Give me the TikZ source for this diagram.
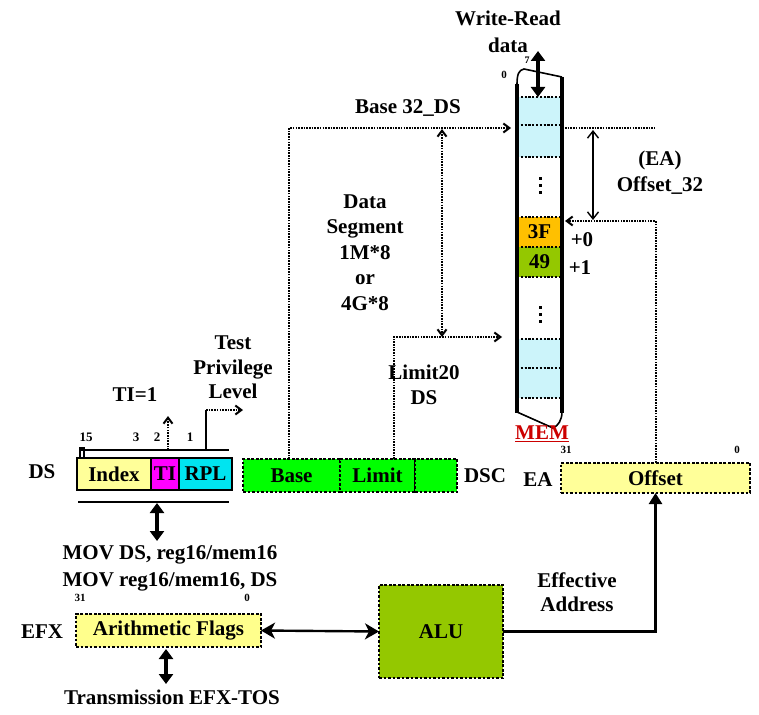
\documentclass[tikz,border=0pt]{standalone}
\usepackage{fontspec}
\setmainfont{Liberation Serif}
\usetikzlibrary{arrows.meta}
\definecolor{pyellow}{RGB}{255,255,153}
\definecolor{flagyellow}{RGB}{255,255,140}
\definecolor{magent}{RGB}{255,0,255}
\definecolor{rplcyan}{RGB}{0,228,240}
\definecolor{dscgreen}{RGB}{0,255,0}
\definecolor{alugreen}{RGB}{148,200,0}
\definecolor{memcyan}{RGB}{204,244,250}
\definecolor{orangethreef}{RGB}{255,192,0}
\definecolor{memred}{RGB}{204,0,0}
\begin{document}
\begin{tikzpicture}[x=1pt,y=-1pt,
  every node/.style={font=\fontsize{21}{25}\selectfont\bfseries, inner sep=0pt, outer sep=0pt},
  lbl/.style={align=center},
  bits/.style={font=\fontsize{13}{15}\selectfont\bfseries},
  tinybits/.style={font=\fontsize{11}{13}\selectfont\bfseries},
  regcell/.style={draw, line width=1.2pt, minimum height=32pt},
  dotbox/.style={draw, line width=2.8pt, dash pattern=on 2.6pt off 1.9pt},
  dotconn/.style={line width=2pt, dash pattern=on 1.6pt off 1.1pt, -{Straight Barb[length=6pt,width=9pt]}},
  dotdbl/.style={line width=2pt, dash pattern=on 1.6pt off 1.1pt, {Straight Barb[length=6pt,width=9pt]}-{Straight Barb[length=6pt,width=9pt]}},
  dotline/.style={line width=2pt, dash pattern=on 1.6pt off 1.1pt},
  thickdbl/.style={line width=3.8pt, {Triangle[length=10pt,width=14pt]}-{Triangle[length=10pt,width=14pt]}},
  flagdbl/.style={line width=2.4pt, {Stealth[length=14pt,width=16pt,inset=4pt]}-{Stealth[length=14pt,width=16pt,inset=4pt]}},
  thindbl/.style={line width=1.4pt, {Straight Barb[length=7pt,width=11pt]}-{Straight Barb[length=7pt,width=11pt]}},
  solidconn/.style={line width=2.4pt, -{Triangle[length=11pt,width=13pt]}},
  memsep/.style={line width=2pt, dash pattern=on 2.2pt off 1.6pt},
  memcell/.style={minimum width=45pt, anchor=north west},
  vdot/.style={fill=black},
]
\useasboundingbox (0,0) rectangle (759,714);

% ---------- DS register ----------
\node (dslbl) at (42,472) {DS};
\node[regcell, fill=pyellow, minimum width=74pt] (index) at (114,474) {Index};
\node[regcell, fill=magent, minimum width=28pt] (ti) at (165,474) {TI};
\node[regcell, fill=rplcyan, minimum width=53pt] (rpl) at (205.5,474) {RPL};
\draw[line width=2.8pt] (index.north west) rectangle (rpl.south east);
\draw[line width=1.4pt] (80,450) -- (229,450);
\draw[line width=1.4pt] (80,458) -- (80,448) -- (84,448) -- (84,458);
\draw[line width=1.4pt] (78,502) -- (229,502);
\node[bits] (b15) at (86,437) {15};
\node[bits] (b3) at (136,437) {3};
\node[bits] (b2) at (157,437) {2};
\node[bits] (b1) at (190,437) {1};
\node (tieq) at (135,395) {TI=1};
\coordinate (tibase) at (168,450);
\coordinate (titop) at (168,416);
\draw[dotconn] (tibase) -- (titop);
\coordinate (rplbase) at (206,450);
\coordinate (rplcorner) at (206,410);
\coordinate (rplend) at (243,410);
\draw[line width=1.4pt] (rplbase) -- (rplcorner);
\draw[dotconn] (rplcorner) -- (rplend);
\node[lbl, font=\fontsize{21}{24.5}\selectfont\bfseries] (tpl) at (233,367.5) {Test\\Privilege\\Level};

% ---------- MOV / flags ----------
\coordinate (dsarrtop) at (157,503);
\coordinate (dsarrbot) at (157,541);
\draw[thickdbl] (dsarrtop) -- (dsarrbot);
\node (mov1) at (170,555) {MOV DS, reg16/mem16};
\node (mov2) at (170,582) {MOV reg16/mem16, DS};
\node[tinybits] (f31) at (80,598) {31};
\node[tinybits] (f0) at (247,598) {0};
\node (efx) at (42,632) {EFX};
\node[dotbox, fill=flagyellow, minimum width=185pt, minimum height=33pt] (flags) at (168.5,630.5) {Arithmetic Flags};
\coordinate (flagtop) at (166,649);
\coordinate (flagbot) at (166,684);
\draw[thickdbl] (flagtop) -- (flagbot);
\node (trans) at (172,697) {Transmission EFX-TOS};

% ---------- ALU ----------
\node[dotbox, fill=alugreen, minimum width=124pt, minimum height=93pt] (alu) at (441,631.5) {ALU};
\draw[flagdbl] (flags.east) -- (alu.west);
\node[lbl, font=\fontsize{21}{24}\selectfont\bfseries] (effaddr) at (577,592) {Effective\\Address};

% ---------- EA offset ----------
\node (dsc) at (485,476) {DSC};
\node (ea) at (538,480) {EA};
\node[dotbox, fill=pyellow, minimum width=189pt, minimum height=30pt] (offset) at (655.5,478) {Offset};
\node[tinybits] (o31) at (566,450) {31};
\node[tinybits] (o0) at (737,450) {0};
\draw[solidconn] (alu.east) -| (offset.south);

% ---------- descriptor ----------
\node[dotbox, fill=dscgreen, minimum width=97pt, minimum height=33pt] (base) at (291.5,475.5) {Base};
\node[dotbox, fill=dscgreen, minimum width=75pt, minimum height=33pt] (limit) at (377.5,475.5) {Limit};
\node[dotbox, fill=dscgreen, minimum width=42pt, minimum height=33pt] (dscx) at (436,475.5) {};

% ---------- memory ----------
\node[memcell, fill=memcyan, minimum height=28pt] (c1) at (517,97) {};
\node[memcell, fill=memcyan, minimum height=32pt] (c2) at (517,125) {};
\node[memcell, fill=orangethreef, minimum height=30pt] (c3f) at (517,217) {3F};
\node[memcell, fill=alugreen, minimum height=30pt] (c49) at (517,247) {49};
\node[memcell, fill=memcyan, minimum height=29pt] (c5) at (517,339) {};
\node[memcell, fill=memcyan, minimum height=30pt] (c6) at (517,368) {};
\foreach \c in {c1,c2,c3f,c49,c5,c6}{
  \draw[memsep] (\c.north west) -- (\c.north east);
  \draw[memsep] (\c.south west) -- (\c.south east);
}
\foreach \yy in {178,185,192,307,314,321}{
  \fill[vdot] (538.5,\yy-1.5) rectangle (541.5,\yy+1.5);
}
\draw[line width=3.2pt] (517,84) -- (517,413);
\draw[line width=3.2pt] (562,77) -- (562,413);
\draw[line width=1.6pt] (517,84) .. controls (517,74) and (519,70) .. (524,69) -- (562,77);
\draw[line width=1.6pt] (517,412) -- (553,428) .. controls (558,426) and (562,420) .. (562,412);
\node[text=memred] (mem) at (542,434) {\underline{MEM}};
\node[tinybits] (m0) at (504,75) {0};
\node[tinybits, font=\fontsize{10}{12}\selectfont\bfseries] (m7) at (527,60) {7};
\node[lbl, font=\fontsize{21}{27}\selectfont\bfseries] (wr) at (508,31.5) {Write-Read\\data};
\coordinate (wrtop) at (538,51);
\coordinate (wrbot) at (538,97);
\draw[thickdbl] (wrtop) -- (wrbot);

% ---------- base / limit connectors ----------
\node (base32) at (408,108) {Base 32\_DS};
\coordinate (baseend) at (511,128);
\coordinate (basetop) at (289,128);
\coordinate (basebot) at (289,459);
\draw[dotconn] (basebot) -- (basetop) -- (baseend);
\coordinate (segtop) at (442,129);
\coordinate (segbot) at (442,337);
\draw[dotdbl] (segtop) -- (segbot);
\node[lbl, font=\fontsize{21}{25.5}\selectfont\bfseries] (dseg) at (365,252.5) {Data\\Segment\\1M*8\\or\\4G*8};
\coordinate (limbot) at (394,459);
\coordinate (limcorner) at (394,337);
\coordinate (limend) at (502,337);
\draw[dotconn] (limbot) -- (limcorner) -- (limend);
\node[lbl, font=\fontsize{21}{25}\selectfont\bfseries] (lim20) at (424,384.5) {Limit20\\DS};

% ---------- offset into memory ----------
\coordinate (rl1) at (565,128);
\coordinate (rl2) at (655,128);
\draw[dotline] (rl1) -- (rl2);
\coordinate (eatop) at (593,130);
\coordinate (eabot) at (593,220);
\draw[thindbl] (eatop) -- (eabot);
\coordinate (offcorner) at (655.5,221);
\coordinate (offend) at (565,221);
\draw[dotconn] (offset.north) -- (offcorner) -- (offend);
\node[lbl, font=\fontsize{21}{26}\selectfont\bfseries] (eaoff) at (660,173) {(EA)\\Offset\_32};
\node (p0) at (582,240) {+0};
\node (p1) at (580,268) {+1};
\end{tikzpicture}
\end{document}
